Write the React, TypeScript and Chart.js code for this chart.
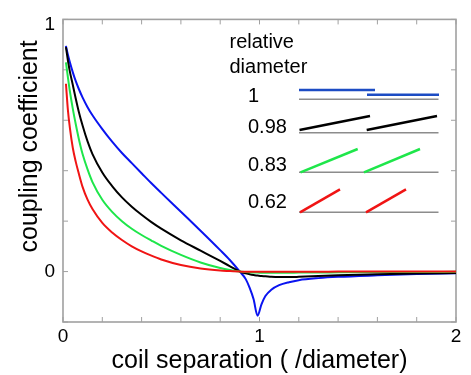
import React, { useEffect, useRef } from "react";
import { Chart, registerables } from "chart.js";

Chart.register(...registerables);

// ---- data ----
const separation = [
  0.015, 0.025, 0.035, 0.05, 0.065, 0.08, 0.1, 0.125, 0.15, 0.2, 0.25, 0.3,
  0.35, 0.4, 0.45, 0.5, 0.6, 0.7, 0.8, 0.85, 0.9, 0.93, 0.95, 0.97, 0.99,
  1.01, 1.03, 1.06, 1.1, 1.15, 1.2, 1.3, 1.4, 1.6, 1.8, 2.0,
];

const kDiam100 = [
  0.895, 0.86, 0.83, 0.79, 0.755, 0.725, 0.69, 0.652, 0.62, 0.565, 0.515, 0.47,
  0.43, 0.39, 0.35, 0.312, 0.237, 0.162, 0.085, 0.045, 0.0, -0.03, -0.065, -0.11, -0.175,
  -0.13, -0.097, -0.072, -0.054, -0.042, -0.034, -0.026, -0.021, -0.015, -0.01, -0.007,
];

const kDiam098 = [
  0.89, 0.837, 0.793, 0.74, 0.685, 0.635, 0.578, 0.516, 0.466, 0.393, 0.339, 0.294,
  0.257, 0.225, 0.196, 0.17, 0.124, 0.083, 0.042, 0.021, 0.0, -0.007, -0.011, -0.014, -0.016,
  -0.018, -0.019, -0.021, -0.022, -0.022, -0.021, -0.018, -0.015, -0.011, -0.008, -0.006,
];

const kDiam083 = [
  0.83, 0.77, 0.715, 0.645, 0.584, 0.528, 0.465, 0.405, 0.355, 0.285, 0.237, 0.2,
  0.17, 0.145, 0.123, 0.102, 0.066, 0.036, 0.014, 0.006, 0.0, -0.002, -0.003, -0.004, -0.004,
  -0.005, -0.005, -0.005, -0.005, -0.005, -0.004, -0.004, -0.003, -0.002, -0.002, -0.001,
];

const kDiam062 = [
  0.745, 0.64, 0.57, 0.49, 0.435, 0.39, 0.335, 0.285, 0.248, 0.193, 0.155, 0.125,
  0.1, 0.08, 0.063, 0.048, 0.026, 0.012, 0.004, 0.002, 0.0, -0.001, -0.001, -0.001, -0.001,
  -0.001, -0.001, -0.001, -0.001, -0.001, -0.001, -0.001, 0.0, 0.0, 0.0, 0.0,
];

const legendTitle = ["relative", "diameter"];
const legendLabels = ["1", "0.98", "0.83", "0.62"];
const xTitle = "coil separation ( /diameter)";
const yTitle = "coupling coefficient";
const yTopLabel = 1;

// ---- styles ----
const FONT = '"Liberation Sans", Arial, Helvetica, sans-serif';
const curveColors = ["#0a14f0", "#000000", "#1ee64a", "#f01414"];
const iconColors = ["#1c4cc4", "#000000", "#1ee64a", "#f01414"];
const frameColor = "#a0a0a0";

// legend icon geometry (pixels): baseline y, two segments [x0,y0,x1,y1]
const legendIcons = [
  { base: 99.3, segs: [[299, 90, 375, 90], [367, 94.7, 439, 94.7]] },
  { base: 132.7, segs: [[299.5, 130, 370, 116], [366.7, 130, 437, 116]] },
  { base: 172.3, segs: [[300.5, 172.3, 357.7, 149], [364, 172.3, 420, 149]] },
  { base: 212.3, segs: [[300, 212.3, 340, 189.3], [366, 212.3, 406, 189.3]] },
];
const legendLabelBaselines = [101.7, 132.5, 170.7, 208.3];

const isInt = (v: number) => Math.abs(v - Math.round(v)) < 1e-6;

export default function App() {
  const ref = useRef<HTMLCanvasElement>(null);

  useEffect(() => {
    if (!ref.current) return;

    const decor = {
      id: "decor",
      beforeDatasetsDraw(chart: any) {
        const { ctx, chartArea } = chart;
        const { left, right, top, bottom } = chartArea;
        const xs = chart.scales.x;
        const ys = chart.scales.y;
        ctx.save();
        ctx.strokeStyle = frameColor;
        ctx.lineWidth = 1;
        const tl = 5;
        xs.ticks.forEach((t: any) => {
          const p = xs.getPixelForValue(t.value);
          ctx.beginPath();
          ctx.moveTo(p, bottom);
          ctx.lineTo(p, bottom - tl);
          ctx.moveTo(p, top);
          ctx.lineTo(p, top + tl);
          ctx.stroke();
        });
        ys.ticks.forEach((t: any) => {
          const p = ys.getPixelForValue(t.value);
          ctx.beginPath();
          ctx.moveTo(left, p);
          ctx.lineTo(left + tl, p);
          ctx.moveTo(right, p);
          ctx.lineTo(right - tl, p);
          ctx.stroke();
        });
        ctx.lineWidth = 1.6;
        ctx.strokeRect(left, top, right - left, bottom - top);
        ctx.restore();
      },
      afterDraw(chart: any) {
        const { ctx, chartArea } = chart;
        const { left, right, top, bottom } = chartArea;
        const ys = chart.scales.y;
        ctx.save();
        ctx.fillStyle = "#000";

        // top y tick label, nudged down as in the reference
        ctx.font = `19px ${FONT}`;
        ctx.textAlign = "right";
        ctx.textBaseline = "middle";
        ctx.fillText(String(yTopLabel), left - 8, ys.getPixelForValue(yTopLabel) + 5);

        // axis titles
        ctx.font = `25px ${FONT}`;
        ctx.textAlign = "center";
        ctx.textBaseline = "alphabetic";
        ctx.fillText(xTitle, (left + right) / 2, bottom + 46);
        ctx.save();
        ctx.translate(left - 26, top + 127);
        ctx.rotate(-Math.PI / 2);
        ctx.fillText(yTitle, 0, 0);
        ctx.restore();

        // legend
        ctx.font = `20px ${FONT}`;
        ctx.textAlign = "left";
        ctx.fillText(legendTitle[0], 229.5, 47.7);
        ctx.fillText(legendTitle[1], 229.5, 73.3);
        legendLabels.forEach((lab, i) => {
          ctx.fillText(lab, 248, legendLabelBaselines[i]);
        });
        ctx.lineCap = "butt";
        legendIcons.forEach((ic, i) => {
          ctx.strokeStyle = "#8c8c8c";
          ctx.lineWidth = 1.5;
          ctx.beginPath();
          ctx.moveTo(299, ic.base);
          ctx.lineTo(438.5, ic.base);
          ctx.stroke();
          ctx.strokeStyle = iconColors[i];
          ctx.lineWidth = 2.5;
          ic.segs.forEach((s) => {
            ctx.beginPath();
            ctx.moveTo(s[0], s[1]);
            ctx.lineTo(s[2], s[3]);
            ctx.stroke();
          });
        });
        ctx.restore();
      },
    };

    const mk = (ys: number[]) => separation.map((x, i) => ({ x, y: ys[i] }));
    const series = [kDiam100, kDiam098, kDiam083, kDiam062];
    // draw red on top, blue at the bottom
    const datasets = [3, 2, 1, 0].map((i) => ({
      label: legendLabels[i],
      data: mk(series[i]),
      borderColor: curveColors[i],
      backgroundColor: curveColors[i],
      borderWidth: 2,
      pointRadius: 0,
      cubicInterpolationMode: "monotone",
      fill: false,
    }));

    const labelFor = (v: any) => {
      const n = Number(v);
      return isInt(n) ? String(Math.round(n)) : "";
    };

    const chart = new Chart(ref.current, {
      type: "line",
      data: { datasets },
      options: {
        responsive: false,
        animation: false,
        events: [],
        layout: { padding: { top: 12, right: 15, left: 0, bottom: 0 } },
        plugins: { legend: { display: false }, tooltip: { enabled: false } },
        scales: {
          x: {
            type: "linear",
            min: 0,
            max: 2,
            grid: { display: false, drawTicks: false },
            border: { display: false },
            ticks: {
              stepSize: 0.2,
              autoSkip: false,
              maxRotation: 0,
              padding: 3,
              color: "#000",
              font: { family: FONT, size: 19 },
              callback: labelFor,
            },
            afterFit: (s: any) => {
              s.height = 53;
            },
          },
          y: {
            type: "linear",
            min: -0.2,
            max: 1,
            grid: { display: false, drawTicks: false },
            border: { display: false },
            ticks: {
              stepSize: 0.2,
              autoSkip: false,
              padding: 8,
              color: "#000",
              font: { family: FONT, size: 19 },
              callback: (v: any) => (Math.abs(Number(v) - yTopLabel) < 1e-6 ? "" : labelFor(v)),
            },
            afterFit: (s: any) => {
              s.width = 63;
            },
          },
        },
      },
      plugins: [decor],
    } as any);

    return () => chart.destroy();
  }, []);

  return (
    <div style={{ position: "absolute", left: 0, top: 0, width: 471, height: 375, background: "#fff" }}>
      <canvas ref={ref} width={471} height={375} style={{ display: "block" }} />
    </div>
  );
}
